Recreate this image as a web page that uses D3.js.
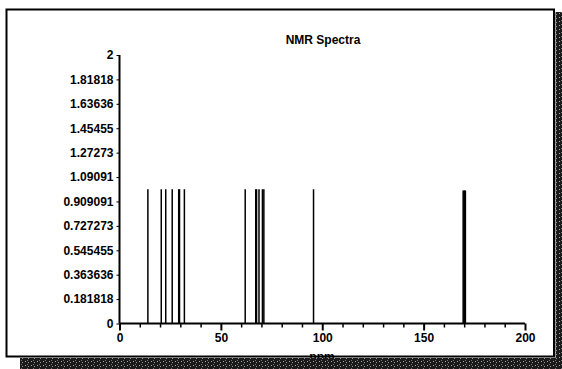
<!DOCTYPE html>
<html>
<head>
<meta charset="utf-8">
<script src="https://cdn.jsdelivr.net/npm/d3@7"></script>
<style>
  body { margin: 0; background: #fff; }
  text { font-family: "Liberation Sans", Arial, sans-serif; font-weight: bold; fill: #000; }
</style>
</head>
<body>
<script>
// peak positions (ppm) and their intensities
const peakPpm = [14.0, 20.6, 22.8, 26.0, 29.2, 29.6, 32.0, 62.0, 67.2, 67.6, 68.8, 70.5, 71.2, 95.7, 169.5, 169.9, 170.3, 170.6];
const peakHeight = [1, 1, 1, 1, 1, 1, 1, 1, 1, 1, 1, 1, 1, 1, 0.99, 0.99, 0.99, 0.99];

// axis ticks
const yTickValues = [0, 2/11, 4/11, 6/11, 8/11, 10/11, 12/11, 14/11, 16/11, 18/11, 20/11, 2];
const yTickLabels = ["0", "0.181818", "0.363636", "0.545455", "0.727273", "0.909091", "1.09091", "1.27273", "1.45455", "1.63636", "1.81818", "2"];
const xMajorTicks = [0, 50, 100, 150, 200];
const xMinorTicks = [10, 20, 30, 40, 60, 70, 80, 90, 110, 120, 130, 140, 160, 170, 180, 190];

const w = 562;
const h = 369;

const svg = d3.select("body").append("svg")
  .attr("width", w)
  .attr("height", h);

// dithered shadow pattern
const defs = svg.append("defs");
const pat = defs.append("pattern")
  .attr("id", "dither")
  .attr("width", 6).attr("height", 4)
  .attr("patternUnits", "userSpaceOnUse");
pat.append("rect").attr("width", 6).attr("height", 4).attr("fill", "#1a1a1a");
pat.append("rect").attr("x", 1).attr("y", 1).attr("width", 1).attr("height", 1).attr("fill", "#aaa");
pat.append("rect").attr("x", 4).attr("y", 2).attr("width", 1).attr("height", 1).attr("fill", "#999");
pat.append("rect").attr("x", 3).attr("y", 0).attr("width", 1).attr("height", 1).attr("fill", "#777");

// frame
svg.append("rect")
  .attr("x", 6.5).attr("y", 9.5)
  .attr("width", 547.5).attr("height", 347)
  .attr("fill", "#fff")
  .attr("stroke", "#000")
  .attr("stroke-width", 2);

const x = d3.scaleLinear().domain([0, 200]).range([119.5, 525]);
const y = d3.scaleLinear().domain([0, 2]).range([323.5, 55]);

// title
svg.append("text")
  .attr("x", 323).attr("y", 44)
  .attr("text-anchor", "middle")
  .style("font-size", "12px")
  .text("NMR Spectra");

// y axis
const yAxis = d3.axisLeft(y)
  .tickValues(yTickValues)
  .tickFormat((d, i) => yTickLabels[i])
  .tickSize(3)
  .tickPadding(3);
const gy = svg.append("g")
  .attr("transform", "translate(" + x(0) + ",0)")
  .call(yAxis);
gy.select(".domain").attr("stroke-width", 2).attr("d", "M0," + y(0) + "V" + y(2));
gy.selectAll("text").style("font-size", "12px").style("font-family", null);
gy.selectAll("line").attr("stroke-width", 1);

// x axis, minor ticks first
svg.append("g")
  .attr("transform", "translate(0," + y(0) + ")")
  .call(d3.axisBottom(x).tickValues(xMinorTicks).tickFormat("").tickSize(4))
  .call(g => g.select(".domain").remove())
  .selectAll("line").attr("stroke-width", 1.5);

const gx = svg.append("g")
  .attr("transform", "translate(0," + y(0) + ")")
  .call(d3.axisBottom(x).tickValues(xMajorTicks).tickSize(7).tickPadding(3));
gx.select(".domain").attr("stroke-width", 2).attr("d", "M" + x(0) + ",0H" + x(200));
gx.selectAll("line").attr("stroke-width", 2);
gx.selectAll("text").style("font-size", "12px").style("font-family", null);

// peaks
svg.append("g")
  .selectAll("line")
  .data(peakPpm)
  .join("line")
  .attr("x1", d => x(d))
  .attr("x2", d => x(d))
  .attr("y1", y(0))
  .attr("y2", (d, i) => y(peakHeight[i]))
  .attr("stroke", "#000")
  .attr("stroke-width", 1.5);

// x label (cut off by the shadow below)
svg.append("text")
  .attr("x", 322).attr("y", 361)
  .attr("text-anchor", "middle")
  .style("font-size", "12px")
  .text("ppm");

// drop shadow right and bottom
svg.append("rect")
  .attr("x", 555.5).attr("y", 12)
  .attr("width", w - 555.5).attr("height", h - 12)
  .attr("fill", "url(#dither)");
svg.append("rect")
  .attr("x", 20).attr("y", 358)
  .attr("width", w - 20).attr("height", h - 358)
  .attr("fill", "url(#dither)");
</script>
</body>
</html>
